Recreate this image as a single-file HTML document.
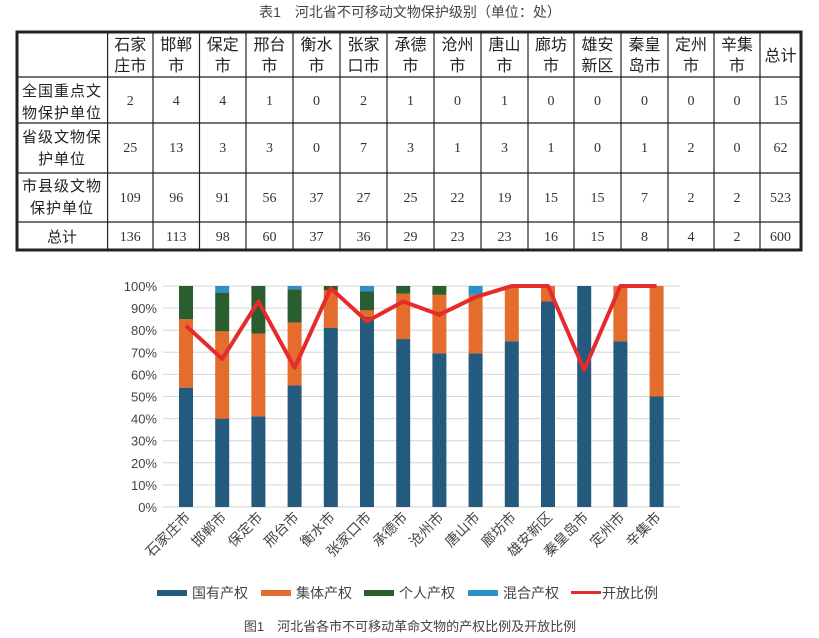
<!DOCTYPE html>
<html><head><meta charset="utf-8"><style>
html,body{margin:0;padding:0;background:#fff;}
svg{display:block;}
.h{font-family:"Liberation Sans","Noto Sans CJK SC",sans-serif;font-size:16px;fill:#222;}
.r{font-family:"Liberation Sans","Noto Sans CJK SC",sans-serif;font-size:15px;fill:#222;}
.n{font-family:"Liberation Serif","Noto Serif CJK SC",serif;font-size:14px;fill:#333;}
.c{font-family:"Liberation Sans","Noto Sans CJK SC",sans-serif;fill:#444;}
</style></head><body>
<svg width="819" height="638" xmlns="http://www.w3.org/2000/svg">
<text x="410" y="17" text-anchor="middle" class="c" font-size="14">表1　河北省不可移动文物保护级别（单位：处）</text>
<g id="tbl"></g>
<g id="chart"></g>
</svg>
<script>
var NS="http://www.w3.org/2000/svg";
function el(p,t,a,txt){var e=document.createElementNS(NS,t);for(var k in a)e.setAttribute(k,a[k]);if(txt!==undefined)e.textContent=txt;p.appendChild(e);return e;}
var T=document.getElementById("tbl");
var cols=[17,107.6,153,199.5,246,293,340,387,434,481,528,574,621,668,714,760,801];
var rows=[32,77,123,173,222,250];
for(var i=1;i<cols.length-1;i++)el(T,"line",{x1:cols[i],x2:cols[i],y1:32,y2:250,stroke:"#222","stroke-width":1.2});
for(var j=1;j<rows.length-1;j++)el(T,"line",{x1:17,x2:801,y1:rows[j],y2:rows[j],stroke:"#222","stroke-width":1.2});
el(T,"rect",{x:17,y:32,width:784,height:218,fill:"none",stroke:"#222","stroke-width":3});
var hd=[["石家","庄市"],["邯郸","市"],["保定","市"],["邢台","市"],["衡水","市"],["张家","口市"],["承德","市"],["沧州","市"],["唐山","市"],["廊坊","市"],["雄安","新区"],["秦皇","岛市"],["定州","市"],["辛集","市"]];
for(var i=0;i<14;i++){var cx=(cols[i+1]+cols[i+2])/2;el(T,"text",{x:cx,y:50,"text-anchor":"middle","class":"h"},hd[i][0]);el(T,"text",{x:cx,y:71,"text-anchor":"middle","class":"h"},hd[i][1]);}
el(T,"text",{x:780.5,y:61,"text-anchor":"middle","class":"h"},"总计");
var rl=[["全国重点文","物保护单位"],["省级文物保","护单位"],["市县级文物","保护单位"]];
var ry=[[96,118],[142,164],[191,213]];
for(var r=0;r<3;r++){el(T,"text",{x:62,y:ry[r][0],"text-anchor":"middle","class":"r","letter-spacing":"1"},rl[r][0]);el(T,"text",{x:62,y:ry[r][1],"text-anchor":"middle","class":"r","letter-spacing":"1"},rl[r][1]);}
el(T,"text",{x:62,y:242,"text-anchor":"middle","class":"r"},"总计");
var data=[[2,4,4,1,0,2,1,0,1,0,0,0,0,0,15],[25,13,3,3,0,7,3,1,3,1,0,1,2,0,62],[109,96,91,56,37,27,25,22,19,15,15,7,2,2,523],[136,113,98,60,37,36,29,23,23,16,15,8,4,2,600]];
var vy=[105,152,202,241];
for(var r=0;r<4;r++)for(var i=0;i<15;i++)el(T,"text",{x:(cols[i+1]+cols[i+2])/2,y:vy[r],"text-anchor":"middle","class":"n"},data[r][i]);

var C=document.getElementById("chart");
var y0=507,y1=286;function Y(p){return y0-(y0-y1)*p/100;}
for(var g=0;g<=10;g++){var yy=Y(g*10);el(C,"line",{x1:163,x2:680,y1:yy,y2:yy,stroke:"#d6d6d6","stroke-width":1});el(C,"text",{x:157,y:yy+5,"text-anchor":"end","class":"c","font-size":13,fill:"#555"},(g*10)+"%");}
var st=[[54,85,100,100],[40,79.5,97,100],[41,78.5,100,100],[55,83.5,98.5,100],[81,98,100,100],[86,89,97.5,100],[76,96.5,100,100],[69.5,96,100,100],[69.5,96,96,100],[75,100,100,100],[93,100,100,100],[100,100,100,100],[75,100,100,100],[50,100,100,100]];
var cl=["#245a7e","#e46c2c","#2a5e2f","#2e90c8"];
var line=[82,67,93,63,99,84,93,87,95,100,100,62,100,100];
var names=["石家庄市","邯郸市","保定市","邢台市","衡水市","张家口市","承德市","沧州市","唐山市","廊坊市","雄安新区","秦皇岛市","定州市","辛集市"];
var pts=[];
for(var i=0;i<14;i++){var cx=186+i*36.2;var prev=0;
for(var k=0;k<4;k++){var v=st[i][k];if(v>prev){el(C,"rect",{x:cx-7,y:Y(v),width:14,height:Y(prev)-Y(v),fill:cl[k]});}prev=Math.max(prev,v);}
pts.push(cx+","+Y(line[i]));
el(C,"text",{x:cx+5,y:518,"text-anchor":"end","class":"c","font-size":14,fill:"#555",transform:"rotate(-45 "+(cx+5)+" 518)"},names[i]);}
el(C,"polyline",{points:pts.join(" "),fill:"none",stroke:"#e52b2b","stroke-width":4,"stroke-linejoin":"round"});
var lg=[["国有产权",157,"#245a7e"],["集体产权",261,"#e46c2c"],["个人产权",364,"#2a5e2f"],["混合产权",468,"#2e90c8"]];
for(var k=0;k<4;k++){el(C,"rect",{x:lg[k][1],y:590,width:30,height:6,fill:lg[k][2]});el(C,"text",{x:lg[k][1]+35,y:598,"class":"c","font-size":14,fill:"#444"},lg[k][0]);}
el(C,"rect",{x:571,y:591,width:30,height:3,fill:"#e52b2b"});
el(C,"text",{x:602,y:598,"class":"c","font-size":14,fill:"#444"},"开放比例");
el(C,"text",{x:410,y:631,"text-anchor":"middle","class":"c","font-size":13,fill:"#444"},"图1　河北省各市不可移动革命文物的产权比例及开放比例");
</script>
</body></html>
